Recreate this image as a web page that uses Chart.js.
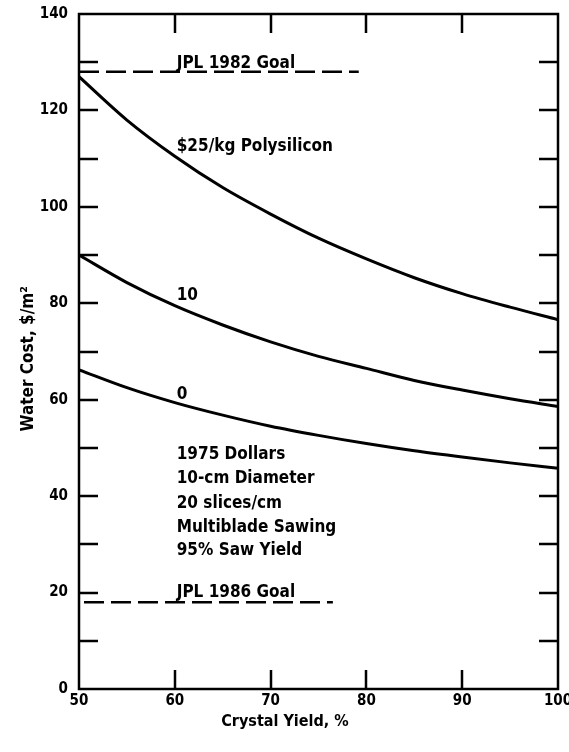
<!DOCTYPE html>
<html><head><meta charset="utf-8">
<script src="https://cdn.jsdelivr.net/npm/chart.js@4/dist/chart.umd.min.js"></script>
<style>html,body{margin:0;padding:0;background:#fff}#wrap{width:569px;height:752px;position:relative}</style>
</head><body><div id="wrap"><canvas id="c" width="569" height="752"></canvas></div>
<script>
// ---- data ----
const crystalYield = [50, 55, 60, 65, 70, 75, 80, 85, 90, 95, 100];
const cost25 = [127, 118, 110.5, 104, 98.5, 93.5, 89.2, 85.3, 82, 79.2, 76.6];
const cost10 = [90, 84.3, 79.5, 75.5, 72, 69, 66.5, 64, 62, 60.2, 58.6];
const cost0  = [66.2, 62.5, 59.4, 56.8, 54.5, 52.6, 50.9, 49.4, 48.1, 46.9, 45.8];
const goal1982X = [50, 79.2];
const goal1982Y = [128, 128];
const goal1986X = [50, 76.5];
const goal1986Y = [18, 18];
const xTickValues = [50, 60, 70, 80, 90, 100];
const yTickValues = [0, 20, 40, 60, 80, 100, 120, 140];
const notes = ['JPL 1982 Goal', '$25/kg Polysilicon', '10', '0', '1975 Dollars', '10-cm Diameter', '20 slices/cm', 'Multiblade Sawing', '95% Saw Yield', 'JPL 1986 Goal'];
const noteX = [60.2, 60.2, 60.2, 60.2, 60.2, 60.2, 60.2, 60.2, 60.2, 60.2];
const noteY = [129.8, 112.5, 81.5, 61.1, 48.7, 43.7, 38.5, 33.5, 28.7, 20.1];
const xTitle = 'Crystal Yield, %';
const yTitle = 'Water Cost, $/m\u00B2';

const FONT = '"Liberation Sans Narrow", "DejaVu Sans Condensed", "Liberation Sans", sans-serif';
const pts = (xs, ys) => xs.map((x, i) => ({x, y: ys[i]}));

const curve = (ys) => ({data: pts(crystalYield, ys), borderColor: '#000', borderWidth: 3, pointRadius: 0, cubicInterpolationMode: 'monotone', fill: false});
const goal = (xs, ys, off) => ({data: pts(xs, ys), borderColor: '#000', borderWidth: 2.5, borderDash: [20, 7], borderDashOffset: off, pointRadius: 0, fill: false});

const decor = {
  id: 'decor',
  afterDatasetsDraw(chart) {
    const {ctx, chartArea: a, scales: {x, y}} = chart;
    ctx.save();
    ctx.strokeStyle = '#000';
    ctx.lineWidth = 2.5;
    ctx.strokeRect(a.left, a.top, a.right - a.left, a.bottom - a.top);
    const L = 19;
    ctx.beginPath();
    y.ticks.forEach(t => {
      if (t.value <= y.min || t.value >= y.max) return;
      const py = Math.round(y.getPixelForValue(t.value));
      ctx.moveTo(a.left, py); ctx.lineTo(a.left + L, py);
      ctx.moveTo(a.right, py); ctx.lineTo(a.right - L, py);
    });
    x.ticks.forEach(t => {
      if (t.value <= x.min || t.value >= x.max) return;
      const px = Math.round(x.getPixelForValue(t.value));
      ctx.moveTo(px, a.top); ctx.lineTo(px, a.top + L);
      ctx.moveTo(px, a.bottom); ctx.lineTo(px, a.bottom - L);
    });
    ctx.stroke();
    // annotations
    ctx.fillStyle = '#000';
    ctx.font = 'bold 17px ' + FONT;
    ctx.textAlign = 'left';
    ctx.textBaseline = 'middle';
    notes.forEach((s, i) => ctx.fillText(s, x.getPixelForValue(noteX[i]), y.getPixelForValue(noteY[i])));
    // axis titles
    ctx.font = 'bold 16px ' + FONT;
    ctx.textAlign = 'center';
    ctx.fillText(xTitle, x.getPixelForValue(71.5), a.bottom + 33);
    ctx.font = 'bold 17px ' + FONT;
    ctx.translate(a.left - 50, y.getPixelForValue(68.5));
    ctx.rotate(-Math.PI / 2);
    ctx.fillText(yTitle, 0, 0);
    ctx.restore();
  }
};

new Chart(document.getElementById('c'), {
  type: 'line',
  data: {datasets: [curve(cost25), curve(cost10), curve(cost0), goal(goal1982X, goal1982Y, 0), goal(goal1986X, goal1986Y, 22)]},
  options: {
    responsive: false,
    animation: false,
    layout: {padding: {left: 0, right: 11, top: 14, bottom: 0}},
    plugins: {legend: {display: false}, tooltip: {enabled: false}},
    scales: {
      x: {
        type: 'linear', min: 50, max: 100,
        afterBuildTicks: s => { s.ticks = xTickValues.map(v => ({value: v})); },
        ticks: {color: '#000', font: {family: FONT, size: 15, weight: 'bold'}, padding: 3, maxRotation: 0, autoSkip: false},
        grid: {display: false, drawTicks: false},
        border: {display: false},
        afterFit: s => { s.height = 63; s.paddingLeft = 0; s.paddingRight = 0; }
      },
      y: {
        type: 'linear', min: 0, max: 140,
        afterBuildTicks: s => { const t = []; for (let v = 0; v <= 140; v += 10) t.push({value: v}); s.ticks = t; },
        ticks: {color: '#000', font: {family: FONT, size: 15, weight: 'bold'}, padding: 11, autoSkip: false,
                callback: v => yTickValues.includes(v) ? String(v) : ''},
        grid: {display: false, drawTicks: false},
        border: {display: false},
        afterFit: s => { s.width = 79; s.paddingTop = 0; s.paddingBottom = 0; }
      }
    }
  },
  plugins: [decor]
});
</script>
</body></html>
